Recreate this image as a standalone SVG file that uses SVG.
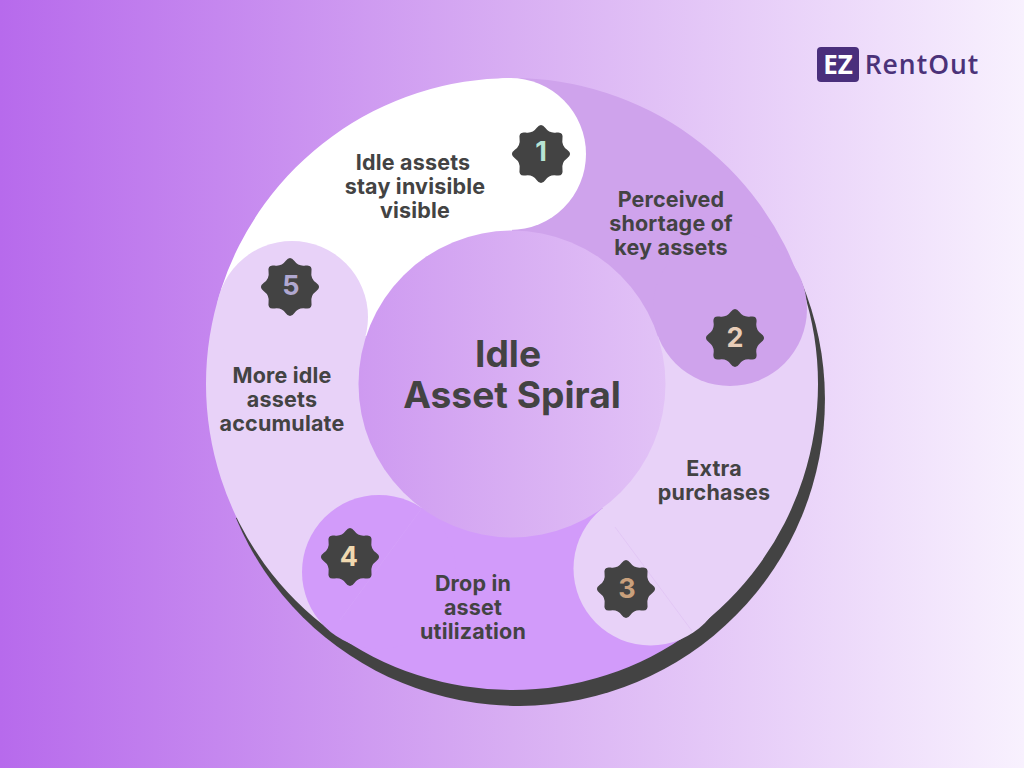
<svg xmlns="http://www.w3.org/2000/svg" width="1024" height="768" viewBox="0 0 1024 768">
<style>
text{font-family:"Inter","Liberation Sans",sans-serif;font-weight:700;fill:#434343;text-anchor:middle}
.l{font-size:21.5px;letter-spacing:.2px}
.n{font-size:27px}
.t{font-size:37.2px}
.seam{fill:none;stroke-width:.5;stroke-opacity:.5}
</style>
<defs>
<linearGradient id="bg" gradientUnits="userSpaceOnUse" x1="0" y1="0" x2="1024" y2="0">
<stop offset="0" stop-color="#b76aec"/><stop offset=".5" stop-color="#d8aef3"/><stop offset="1" stop-color="#f8f1fe"/>
</linearGradient>
<path id="star" fill="#434343" d="M26.15,-4.2Q32,0 26.15,4.2Q20.3,8.4 21.45,15.5Q22.6,22.6 15.5,21.45Q8.4,20.3 4.2,26.15Q0,32 -4.2,26.15Q-8.4,20.3 -15.5,21.45Q-22.6,22.6 -21.45,15.5Q-20.3,8.4 -26.15,4.2Q-32,0 -26.15,-4.2Q-20.3,-8.4 -21.45,-15.5Q-22.6,-22.6 -15.5,-21.45Q-8.4,-20.3 -4.2,-26.15Q0,-32 4.2,-26.15Q8.4,-20.3 15.5,-21.45Q22.6,-22.6 21.45,-15.5Q20.3,-8.4 26.15,-4.2Z"/>
</defs>
<rect width="1024" height="768" fill="url(#bg)"/>
<path id="rim" d="M801.1,280.9A300,300 0 0 1 235.9,518.1Z" fill="#434343"/>
<g id="bodies">
<path d="M221,289.4A306,306 0 0 1 512,78L512,234A150,150 0 0 0 369.3,337.6Z" fill="#fff"/>
<path d="M512,78A306,306 0 0 1 803,289.4L654.7,337.6A150,150 0 0 0 512,234Z" fill="#cfa3ec"/>
<path d="M803,289.4A306,306 0 0 1 691.9,631.6L600.2,505.4A150,150 0 0 0 654.7,337.6Z" fill="#e8d2f8"/>
<path d="M691.9,631.6A306,306 0 0 1 332.1,631.6L423.8,505.4A150,150 0 0 0 600.2,505.4Z" fill="#d29bfa"/>
<path d="M332.1,631.6A306,306 0 0 1 221,289.4L369.3,337.6A150,150 0 0 0 423.8,505.4Z" fill="#e8d2f8"/>
</g>
<g id="step1">
<circle cx="510" cy="154" r="76" fill="#fff"/>
<use href="#star" x="541" y="154"/>
<text class="n" x="541" y="161" style="fill:#b7e4d5">1</text>
<text class="l" x="413" y="170">Idle assets</text>
<text class="l" x="415" y="194">stay invisible</text>
<text class="l" x="415" y="218">visible</text>
</g>
<g id="step2">
<circle cx="730" cy="309" r="77" fill="#cfa3ec"/>
<use href="#star" x="735" y="338"/>
<text class="n" x="735" y="347" style="fill:#e8cdb8">2</text>
<text class="l" x="671" y="207">Perceived</text>
<text class="l" x="671" y="231">shortage of</text>
<text class="l" x="671" y="255">key assets</text>
</g>
<g id="step3">
<circle cx="650.5" cy="568.5" r="77" fill="#e8d2f8"/>
<path class="seam" d="M615,527L692,631" stroke="#cfa3ec"/>
<use href="#star" x="626" y="589"/>
<text class="n" x="627" y="598" style="fill:#c9a07c">3</text>
<text class="l" x="714" y="476">Extra</text>
<text class="l" x="714" y="500">purchases</text>
</g>
<g id="step4">
<circle cx="379" cy="572" r="77" fill="#d29bfa"/>
<path class="seam" d="M421.5,508.6L340,620" stroke="#dcb0fb"/>
<use href="#star" x="350" y="557"/>
<text class="n" x="349" y="566" style="fill:#f0d9b0">4</text>
<text class="l" x="473" y="591">Drop in</text>
<text class="l" x="473" y="615">asset</text>
<text class="l" x="473" y="639">utilization</text>
</g>
<g id="step5">
<circle cx="292" cy="317" r="76" fill="#e8d2f8"/>
<use href="#star" x="290" y="287"/>
<text class="n" x="291" y="295" style="fill:#b0a8d0">5</text>
<text class="l" x="282" y="383">More idle</text>
<text class="l" x="282" y="407">assets</text>
<text class="l" x="282" y="431">accumulate</text>
</g>
<g id="center">
<circle cx="512" cy="384" r="153.5" fill="url(#bg)"/>
<text class="t" x="508" y="367">Idle</text>
<text class="t" x="512" y="408">Asset Spiral</text>
</g>
<g id="logo">
<rect x="817" y="47" width="42" height="35" rx="4" fill="#4a2f7c"/>
<text x="838" y="74" style="fill:#fff;font-size:26px;font-family:'Open Sans','Liberation Sans',sans-serif">EZ</text>
<text x="922" y="74" style="fill:#4b3279;font-size:26.5px;font-weight:600;letter-spacing:1px;font-family:'Open Sans','Liberation Sans',sans-serif">RentOut</text>
</g>
</svg>
